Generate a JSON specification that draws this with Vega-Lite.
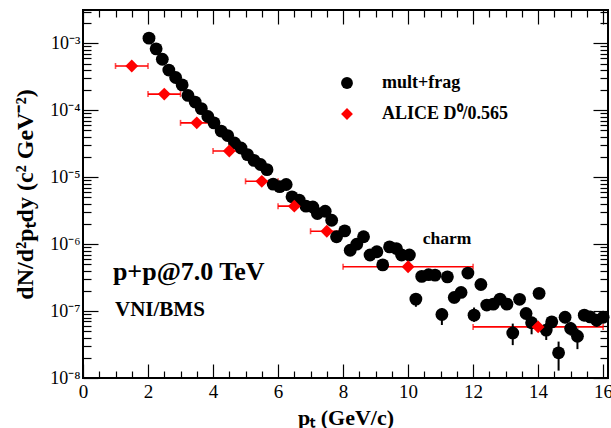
{
  "$schema": "https://vega.github.io/schema/vega-lite/v6.json",
  "width": 525,
  "height": 368,
  "autosize": {"type": "none"},
  "padding": {"left": 83, "top": 10, "right": 3, "bottom": 50},
  "background": "white",
  "config": {
    "view": {"stroke": "black", "strokeWidth": 2},
    "font": "Liberation Serif",
    "axis": {"grid": false, "domain": false, "tickColor": "black", "tickWidth": 1.2, "labelFont": "Liberation Serif", "titleFont": "Liberation Serif", "labelColor": "black", "titleColor": "black"}
  },
  "datasets": {
    "pts": [
      {"s": "mult+frag", "x": 2.03, "y": 1.2e-3},
      {"s": "mult+frag", "x": 2.25, "y": 8.3e-4},
      {"s": "mult+frag", "x": 2.44, "y": 5.8e-4},
      {"s": "mult+frag", "x": 2.64, "y": 4.0e-4},
      {"s": "mult+frag", "x": 2.85, "y": 3.1e-4},
      {"s": "mult+frag", "x": 3.05, "y": 2.4e-4},
      {"s": "mult+frag", "x": 3.23, "y": 1.67e-4},
      {"s": "mult+frag", "x": 3.45, "y": 1.33e-4},
      {"s": "mult+frag", "x": 3.64, "y": 1.06e-4},
      {"s": "mult+frag", "x": 3.84, "y": 8.1e-5},
      {"s": "mult+frag", "x": 4.03, "y": 6.5e-5},
      {"s": "mult+frag", "x": 4.25, "y": 4.9e-5},
      {"s": "mult+frag", "x": 4.45, "y": 4.2e-5},
      {"s": "mult+frag", "x": 4.66, "y": 3.25e-5},
      {"s": "mult+frag", "x": 4.86, "y": 2.74e-5},
      {"s": "mult+frag", "x": 5.06, "y": 2.18e-5},
      {"s": "mult+frag", "x": 5.26, "y": 1.79e-5},
      {"s": "mult+frag", "x": 5.46, "y": 1.55e-5},
      {"s": "mult+frag", "x": 5.66, "y": 1.30e-5},
      {"s": "mult+frag", "x": 5.85, "y": 7.9e-6},
      {"s": "mult+frag", "x": 6.05, "y": 7.25e-6},
      {"s": "mult+frag", "x": 6.25, "y": 7.8e-6},
      {"s": "mult+frag", "x": 6.43, "y": 5.1e-6},
      {"s": "mult+frag", "x": 6.65, "y": 4.55e-6},
      {"s": "mult+frag", "x": 6.86, "y": 3.7e-6},
      {"s": "mult+frag", "x": 7.07, "y": 3.6e-6},
      {"s": "mult+frag", "x": 7.21, "y": 2.87e-6},
      {"s": "mult+frag", "x": 7.45, "y": 3.1e-6},
      {"s": "mult+frag", "x": 7.65, "y": 2.28e-6},
      {"s": "mult+frag", "x": 7.8, "y": 1.29e-6},
      {"s": "mult+frag", "x": 8.05, "y": 1.58e-6},
      {"s": "mult+frag", "x": 8.22, "y": 8.1e-7},
      {"s": "mult+frag", "x": 8.42, "y": 1.0e-6},
      {"s": "mult+frag", "x": 8.63, "y": 1.29e-6},
      {"s": "mult+frag", "x": 8.83, "y": 6.9e-7},
      {"s": "mult+frag", "x": 9.04, "y": 7.7e-7},
      {"s": "mult+frag", "x": 9.22, "y": 4.9e-7},
      {"s": "mult+frag", "x": 9.43, "y": 9.1e-7},
      {"s": "mult+frag", "x": 9.64, "y": 8.6e-7},
      {"s": "mult+frag", "x": 9.8, "y": 6.9e-7},
      {"s": "mult+frag", "x": 10.04, "y": 6.9e-7},
      {"s": "mult+frag", "x": 10.24, "y": 1.51e-7, "ylo": 1.16e-7, "yhi": 1.84e-7},
      {"s": "mult+frag", "x": 10.42, "y": 3.3e-7},
      {"s": "mult+frag", "x": 10.63, "y": 3.5e-7},
      {"s": "mult+frag", "x": 10.83, "y": 3.45e-7},
      {"s": "mult+frag", "x": 11.04, "y": 8.9e-8, "ylo": 6.2e-8, "yhi": 1.1e-7},
      {"s": "mult+frag", "x": 11.21, "y": 3.25e-7},
      {"s": "mult+frag", "x": 11.42, "y": 1.6e-7, "ylo": 1.3e-7, "yhi": 1.9e-7},
      {"s": "mult+frag", "x": 11.63, "y": 1.9e-7, "ylo": 1.6e-7, "yhi": 2.2e-7},
      {"s": "mult+frag", "x": 11.84, "y": 3.7e-7},
      {"s": "mult+frag", "x": 12.03, "y": 8.7e-8, "ylo": 6.9e-8, "yhi": 1.13e-7},
      {"s": "mult+frag", "x": 12.24, "y": 2.5e-7},
      {"s": "mult+frag", "x": 12.42, "y": 1.23e-7, "ylo": 1.05e-7, "yhi": 1.42e-7},
      {"s": "mult+frag", "x": 12.62, "y": 1.27e-7, "ylo": 1.08e-7, "yhi": 1.47e-7},
      {"s": "mult+frag", "x": 12.83, "y": 1.51e-7, "ylo": 1.3e-7, "yhi": 1.72e-7},
      {"s": "mult+frag", "x": 13.04, "y": 1.27e-7, "ylo": 1.08e-7, "yhi": 1.47e-7},
      {"s": "mult+frag", "x": 13.22, "y": 4.7e-8, "ylo": 3.1e-8, "yhi": 6.5e-8},
      {"s": "mult+frag", "x": 13.43, "y": 1.5e-7, "ylo": 1.3e-7, "yhi": 1.72e-7},
      {"s": "mult+frag", "x": 13.63, "y": 9.2e-8, "ylo": 7.6e-8, "yhi": 1.1e-7},
      {"s": "mult+frag", "x": 13.8, "y": 6.7e-8, "ylo": 4.5e-8, "yhi": 8.2e-8},
      {"s": "mult+frag", "x": 14.03, "y": 1.84e-7, "ylo": 1.6e-7, "yhi": 2.1e-7},
      {"s": "mult+frag", "x": 14.25, "y": 5.2e-8, "ylo": 3.7e-8, "yhi": 6.7e-8},
      {"s": "mult+frag", "x": 14.42, "y": 6.9e-8, "ylo": 5.6e-8, "yhi": 8.3e-8},
      {"s": "mult+frag", "x": 14.63, "y": 2.38e-8, "ylo": 1.29e-8, "yhi": 3.5e-8},
      {"s": "mult+frag", "x": 14.83, "y": 8.1e-8, "ylo": 6.6e-8, "yhi": 9.8e-8},
      {"s": "mult+frag", "x": 15.0, "y": 5.5e-8, "ylo": 4.3e-8, "yhi": 6.9e-8},
      {"s": "mult+frag", "x": 15.21, "y": 4.2e-8, "ylo": 2.7e-8, "yhi": 5.5e-8},
      {"s": "mult+frag", "x": 15.42, "y": 8.7e-8, "ylo": 7.0e-8, "yhi": 1.05e-7},
      {"s": "mult+frag", "x": 15.6, "y": 8.2e-8, "ylo": 6.7e-8, "yhi": 9.8e-8},
      {"s": "mult+frag", "x": 15.8, "y": 7.3e-8, "ylo": 5.8e-8, "yhi": 8.9e-8},
      {"s": "mult+frag", "x": 16.0, "y": 8.1e-8, "ylo": 6.6e-8, "yhi": 9.8e-8},
      {"s": "ALICE D⁰/0.565", "x": 1.5, "y": 4.6e-4, "xlo": 1, "xhi": 2},
      {"s": "ALICE D⁰/0.565", "x": 2.5, "y": 1.75e-4, "xlo": 2, "xhi": 3},
      {"s": "ALICE D⁰/0.565", "x": 3.5, "y": 6.5e-5, "xlo": 3, "xhi": 4},
      {"s": "ALICE D⁰/0.565", "x": 4.5, "y": 2.47e-5, "xlo": 4, "xhi": 5},
      {"s": "ALICE D⁰/0.565", "x": 5.5, "y": 8.7e-6, "xlo": 5, "xhi": 6},
      {"s": "ALICE D⁰/0.565", "x": 6.5, "y": 3.7e-6, "xlo": 6, "xhi": 7},
      {"s": "ALICE D⁰/0.565", "x": 7.5, "y": 1.56e-6, "xlo": 7, "xhi": 8},
      {"s": "ALICE D⁰/0.565", "x": 10, "y": 4.6e-7, "xlo": 8, "xhi": 12},
      {"s": "ALICE D⁰/0.565", "x": 14, "y": 5.8e-8, "xlo": 12, "xhi": 16, "ylo": 5.0e-8, "yhi": 6.7e-8}
    ]
  },
  "layer": [
    {
      "data": {"name": "pts"},
      "transform": [{"filter": "datum.xlo != null"}],
      "mark": {"type": "rule", "color": "#ff0000", "strokeWidth": 1.6},
      "encoding": {
        "x": {"field": "xlo", "type": "quantitative", "scale": {"domain": [0, 16.15], "nice": false, "zero": false}, "axis": null},
        "x2": {"field": "xhi"},
        "y": {"field": "y", "type": "quantitative", "scale": {"type": "log", "domain": [1e-8, 3.16e-3], "nice": false}, "axis": null}
      }
    },
    {
      "data": {"name": "pts"},
      "transform": [{"filter": "datum.xlo != null"}],
      "mark": {"type": "tick", "orient": "vertical", "color": "#ff0000", "size": 6, "thickness": 1.6},
      "encoding": {
        "x": {"field": "xlo", "type": "quantitative", "axis": null},
        "y": {"field": "y", "type": "quantitative", "axis": null}
      }
    },
    {
      "data": {"name": "pts"},
      "transform": [{"filter": "datum.xlo != null"}],
      "mark": {"type": "tick", "orient": "vertical", "color": "#ff0000", "size": 6, "thickness": 1.6},
      "encoding": {
        "x": {"field": "xhi", "type": "quantitative", "axis": null},
        "y": {"field": "y", "type": "quantitative", "axis": null}
      }
    },
    {
      "data": {"name": "pts"},
      "transform": [{"filter": "datum.ylo != null"}],
      "mark": {"type": "rule", "strokeWidth": 2},
      "encoding": {
        "x": {"field": "x", "type": "quantitative", "axis": {"orient": "top", "values": [0,0.5,1,1.5,2,2.5,3,3.5,4,4.5,5,5.5,6,6.5,7,7.5,8,8.5,9,9.5,10,10.5,11,11.5,12,12.5,13,13.5,14,14.5,15,15.5,16], "labels": false, "title": null, "tickSize": {"condition": {"test": "datum.value % 2 === 0", "value": -14}, "value": -7}}},
        "y": {"field": "ylo", "type": "quantitative", "axis": {"orient": "right", "values": [1e-8,2e-8,3e-8,4e-8,5e-8,6e-8,7e-8,8e-8,9e-8,1e-7,2e-7,3e-7,4e-7,5e-7,6e-7,7e-7,8e-7,9e-7,1e-6,2e-6,3e-6,4e-6,5e-6,6e-6,7e-6,8e-6,9e-6,1e-5,2e-5,3e-5,4e-5,5e-5,6e-5,7e-5,8e-5,9e-5,1e-4,2e-4,3e-4,4e-4,5e-4,6e-4,7e-4,8e-4,9e-4,1e-3,2e-3,3e-3], "labels": false, "title": null, "tickSize": {"condition": {"test": "abs(log(datum.value)/LN10 - round(log(datum.value)/LN10)) < 0.001", "value": -15}, "value": -8}}},
        "y2": {"field": "yhi"},
        "color": {"value": "black"}
      }
    },
    {
      "data": {"name": "pts"},
      "mark": {"type": "point", "filled": true, "opacity": 1, "size": 165},
      "encoding": {
        "x": {"field": "x", "type": "quantitative", "axis": {"orient": "bottom", "values": [0,0.5,1,1.5,2,2.5,3,3.5,4,4.5,5,5.5,6,6.5,7,7.5,8,8.5,9,9.5,10,10.5,11,11.5,12,12.5,13,13.5,14,14.5,15,15.5,16], "labelExpr": "datum.value % 2 === 0 ? format(datum.value, 'd') : ''", "labelFontSize": 19, "labelPadding": 18, "labelFlush": false, "title": "pₜ (GeV/c)", "titleFontSize": 22, "titleFontWeight": "bold", "titlePadding": 6, "tickSize": {"condition": {"test": "datum.value % 2 === 0", "value": -14}, "value": -7}}},
        "y": {"field": "y", "type": "quantitative", "axis": {"orient": "left", "values": [1e-8,2e-8,3e-8,4e-8,5e-8,6e-8,7e-8,8e-8,9e-8,1e-7,2e-7,3e-7,4e-7,5e-7,6e-7,7e-7,8e-7,9e-7,1e-6,2e-6,3e-6,4e-6,5e-6,6e-6,7e-6,8e-6,9e-6,1e-5,2e-5,3e-5,4e-5,5e-5,6e-5,7e-5,8e-5,9e-5,1e-4,2e-4,3e-4,4e-4,5e-4,6e-4,7e-4,8e-4,9e-4,1e-3,2e-3,3e-3], "labelExpr": "datum.value == 1e-3 ? '10⁻³' : datum.value == 1e-4 ? '10⁻⁴' : datum.value == 1e-5 ? '10⁻⁵' : datum.value == 1e-6 ? '10⁻⁶' : datum.value == 1e-7 ? '10⁻⁷' : datum.value == 1e-8 ? '10⁻⁸' : ''", "labelFontSize": 18, "labelPadding": 18, "labelFlush": false, "title": "dN/d²pₜdy (c² GeV⁻²)", "titleFontSize": 24, "titleFontWeight": "bold", "titlePadding": 12, "tickSize": {"condition": {"test": "abs(log(datum.value)/LN10 - round(log(datum.value)/LN10)) < 0.001", "value": -15}, "value": -8}}},
        "color": {"field": "s", "type": "nominal", "sort": null, "scale": {"domain": ["mult+frag", "ALICE D⁰/0.565"], "range": ["#000000", "#ff0000"]}, "legend": {"orient": "none", "legendX": 255, "legendY": 64, "title": null, "labelFont": "Liberation Serif", "labelFontWeight": "bold", "labelFontSize": 18, "labelColor": "black", "labelOffset": 26, "symbolSize": 140, "rowPadding": 13, "padding": 0}},
        "shape": {"field": "s", "type": "nominal", "sort": null, "scale": {"domain": ["mult+frag", "ALICE D⁰/0.565"], "range": ["circle", "diamond"]}, "legend": {"orient": "none", "legendX": 255, "legendY": 64, "title": null, "labelFont": "Liberation Serif", "labelFontWeight": "bold", "labelFontSize": 18, "labelColor": "black", "labelOffset": 26, "symbolSize": 140, "rowPadding": 13, "padding": 0}}
      }
    },
    {
      "data": {"values": [{"t": "charm", "x": 11.2, "y": 1.19e-6}]},
      "mark": {"type": "text", "font": "Liberation Serif", "fontWeight": "bold", "fontSize": 17.5, "align": "center", "baseline": "middle", "color": "black"},
      "encoding": {"x": {"field": "x", "type": "quantitative", "axis": null}, "y": {"field": "y", "type": "quantitative", "axis": null}, "text": {"field": "t"}}
    },
    {
      "data": {"values": [{"t": "p+p@7.0 TeV", "x": 0.92, "y": 3.8e-7}]},
      "mark": {"type": "text", "font": "Liberation Serif", "fontWeight": "bold", "fontSize": 26, "align": "left", "baseline": "middle", "color": "black"},
      "encoding": {"x": {"field": "x", "type": "quantitative", "axis": null}, "y": {"field": "y", "type": "quantitative", "axis": null}, "text": {"field": "t"}}
    },
    {
      "data": {"values": [{"t": "VNI/BMS", "x": 0.985, "y": 1.03e-7}]},
      "mark": {"type": "text", "font": "Liberation Serif", "fontWeight": "bold", "fontSize": 21, "align": "left", "baseline": "middle", "color": "black"},
      "encoding": {"x": {"field": "x", "type": "quantitative", "axis": null}, "y": {"field": "y", "type": "quantitative", "axis": null}, "text": {"field": "t"}}
    }
  ]
}
